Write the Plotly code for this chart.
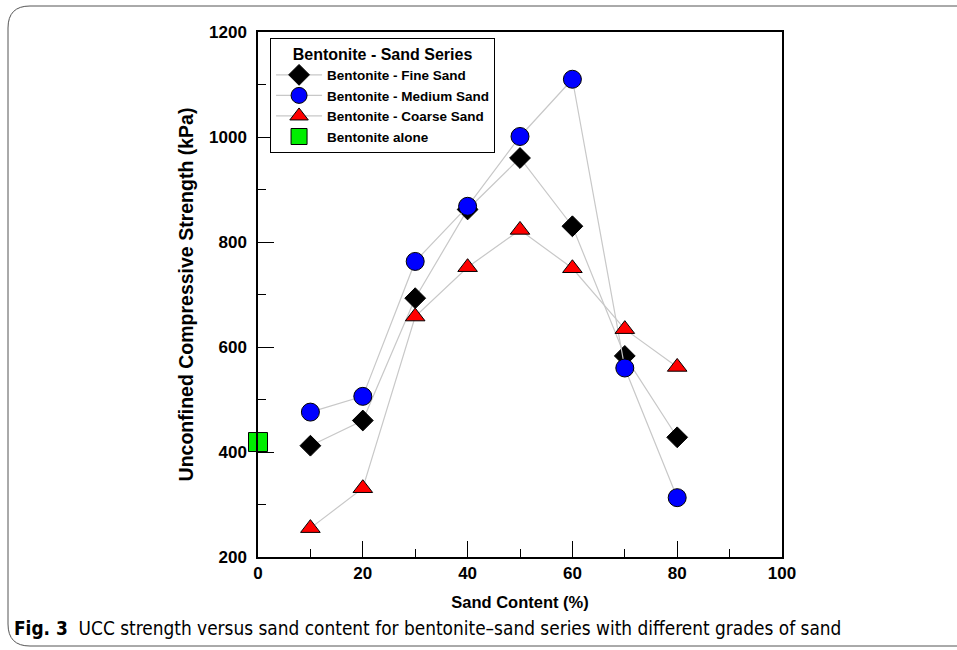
import plotly.graph_objects as go

sand = [10, 20, 30, 40, 50, 60, 70, 80]
fine = [412, 460, 693, 862, 960, 830, 583, 428]
medium = [476, 506, 763, 868, 1001, 1110, 560, 313]
coarse = [255, 331, 658, 752, 823, 750, 634, 562]
alone_x = [0]
alone_y = [419]

line_col = "#c8c8c8"
fig = go.Figure()
fig.add_trace(go.Scatter(x=sand, y=fine, mode="lines+markers", name="Bentonite - Fine Sand",
                         line=dict(color=line_col, width=1.2),
                         marker=dict(symbol="diamond", size=16, color="black", line=dict(color="black", width=1))))
fig.add_trace(go.Scatter(x=sand, y=medium, mode="lines+markers", name="Bentonite - Medium Sand",
                         line=dict(color=line_col, width=1.2),
                         marker=dict(symbol="circle", size=18, color="#0000ff", line=dict(color="black", width=1))))
fig.add_trace(go.Scatter(x=sand, y=coarse, mode="lines+markers", name="Bentonite - Coarse Sand",
                         line=dict(color=line_col, width=1.2),
                         marker=dict(symbol="triangle-up", size=17, color="#ff0000", line=dict(color="black", width=1))))
fig.add_trace(go.Scatter(x=alone_x, y=alone_y, mode="markers", name="Bentonite alone",
                         marker=dict(symbol="square", size=19, color="#00ee00", line=dict(color="black", width=1)),
                         cliponaxis=False))

tick_font = dict(family="Liberation Sans", size=17, color="black", weight="bold")
fig.update_layout(
    width=957, height=650,
    margin=dict(l=258, r=175, t=32, b=93, autoexpand=False),
    paper_bgcolor="white", plot_bgcolor="white",
    font=dict(family="Liberation Sans", color="black"),
    xaxis=dict(range=[0, 100], dtick=20, tick0=0, ticks="inside", ticklen=16, tickwidth=1.2,
               tickcolor="black", showline=True, linecolor="black", linewidth=1.5, mirror=True,
               showgrid=False, zeroline=False,
               minor=dict(dtick=10, ticks="inside", ticklen=8, tickwidth=1.2, tickcolor="black", showgrid=False),
               tickfont=tick_font,
               title=dict(text="<b>Sand Content (%)</b>",
                          font=dict(family="Liberation Sans", size=16.5, color="black"), standoff=14)),
    yaxis=dict(range=[200, 1200], dtick=200, tick0=200, ticks="inside", ticklen=16, tickwidth=1.2,
               tickcolor="black", showline=True, linecolor="black", linewidth=1.5, mirror=True,
               showgrid=False, zeroline=False, ticklabelstandoff=6,
               minor=dict(dtick=100, ticks="inside", ticklen=8, tickwidth=1.2, tickcolor="black", showgrid=False),
               tickfont=tick_font,
               title=dict(text="<b>Unconfined Compressive Strength (kPa)</b>",
                          font=dict(family="Liberation Sans", size=19.5, color="black"), standoff=10)),
    legend=dict(x=0.023, y=0.989, xanchor="left", yanchor="top",
                bordercolor="black", borderwidth=1, bgcolor="white",
                title=dict(text="<b>Bentonite - Sand Series</b>", font=dict(size=16, family="Liberation Sans"),
                           side="top center"),
                font=dict(family="Liberation Sans", size=13.5, color="black", weight="bold"),
                itemsizing="trace", itemwidth=46, tracegroupgap=0),
    showlegend=True,
)

# outer rounded frame
x0, x1 = (8 - 258) / 524, (990 - 258) / 524
y0, y1 = (557 - 646) / 525, (557 - 6) / 525
rx, ry = 22 / 524, 22 / 525
path = (f"M {x0+rx},{y1} L {x1},{y1} M {x0+rx},{y0} L {x1},{y0} "
        f"M {x0+rx},{y1} Q {x0},{y1} {x0},{y1-ry} L {x0},{y0+ry} Q {x0},{y0} {x0+rx},{y0}")
fig.add_shape(type="path", path=path, xref="paper", yref="paper",
              line=dict(color="#555555", width=1))

fig.add_annotation(x=(12 - 258) / 524, y=(557 - 628) / 525, xref="paper", yref="paper",
                   xanchor="left", yanchor="middle", showarrow=False,
                   text="<b>Fig. 3</b>  UCC strength versus sand content for bentonite–sand series with different grades of sand",
                   font=dict(family="DejaVu Sans Condensed", size=18.9, color="black"))

fig.write_html("out.html", config={"displayModeBar": False},
               post_script="document.body.style.margin='0';")
